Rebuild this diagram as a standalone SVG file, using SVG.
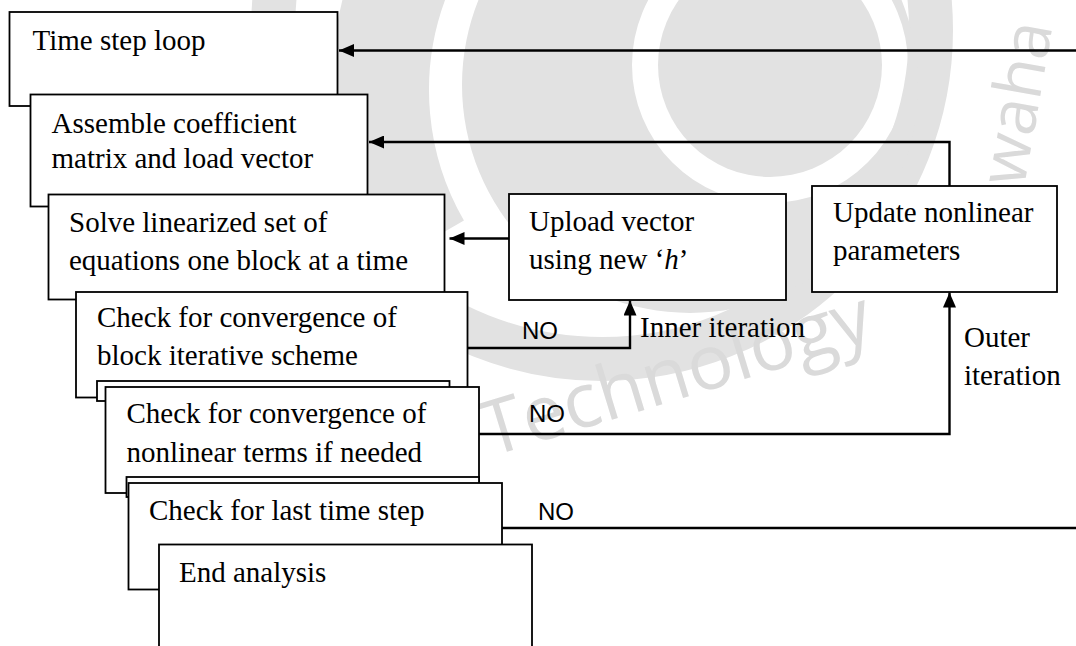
<svg xmlns="http://www.w3.org/2000/svg" width="1076" height="646" viewBox="0 0 1076 646">
  <defs>
    <style>
      .box { fill: #ffffff; stroke: #000000; stroke-width: 1.8; }
      .t { font-family: "Liberation Serif", "Times New Roman", serif; font-size: 29px; fill: #000000; }
      .no { font-family: "Liberation Sans", Arial, sans-serif; font-size: 24px; fill: #000000; }
      .conn { fill: none; stroke: #000000; stroke-width: 2.4; }
      .wm { fill: #e2e2e2; }
      .wmt { font-family: "Open Sans", "Liberation Sans", sans-serif; fill: #dadada; }
    </style>
    <marker id="arrow" markerUnits="userSpaceOnUse" viewBox="0 0 15 13" markerWidth="15" markerHeight="13" refX="15" refY="6.5" orient="auto">
      <path d="M0,0 L15,6.5 L0,13 z" fill="#000000"/>
    </marker>
  </defs>
  <rect x="0" y="0" width="1076" height="646" fill="#ffffff"/>

  <g id="watermark">
    <circle cx="602" cy="30" r="329" fill="none" stroke="#e2e2e2" stroke-width="44"/>
    <path class="wm" fill-rule="evenodd" d="M918,85 A228,228 0 1,1 462,85 A228,228 0 1,1 918,85 Z M908,65 A138,138 0 1,0 632,65 A138,138 0 1,0 908,65 Z"/>
    <path d="M421.5,245 A310,310 0 0,1 610,-209.4" fill="none" stroke="#e2e2e2" stroke-width="98"/>
    <circle class="wm" cx="770" cy="65" r="112"/>
    <text class="wmt" font-size="76" transform="translate(490,457) rotate(-17)">Technology</text>
    <text class="wmt" font-size="66" transform="translate(1024,188) rotate(-80)">waha</text>
  </g>

  <g id="node-time-step-loop">
    <rect class="box" x="9.5" y="12" width="328" height="94"/>
    <text class="t" x="32.5" y="50">Time step loop</text>
  </g>
  <g id="node-assemble">
    <rect class="box" x="30.5" y="94.5" width="337" height="112"/>
    <text class="t" x="51.5" y="133">Assemble coefficient</text>
    <text class="t" x="51.5" y="168">matrix and load vector</text>
  </g>
  <g id="node-solve">
    <rect class="box" x="48.5" y="194.5" width="396" height="105"/>
    <text class="t" x="69" y="232">Solve linearized set of</text>
    <text class="t" x="69" y="270">equations one block at a time</text>
  </g>
  <g id="node-check-block">
    <rect class="box" x="76" y="292" width="391.5" height="105.5"/>
    <text class="t" x="97" y="327">Check for convergence of</text>
    <text class="t" x="97" y="365">block iterative scheme</text>
    <rect class="box" x="97" y="381" width="352.5" height="20"/>
  </g>
  <g id="node-check-nonlinear">
    <rect class="box" x="105.5" y="387" width="373.5" height="106"/>
    <text class="t" x="126.5" y="423">Check for convergence of</text>
    <text class="t" x="126.5" y="462">nonlinear terms if needed</text>
    <rect class="box" x="126.5" y="477" width="352.5" height="20"/>
  </g>
  <g id="node-check-last">
    <rect class="box" x="128.5" y="483" width="373.5" height="106.5"/>
    <text class="t" x="149" y="520">Check for last time step</text>
  </g>
  <g id="node-end">
    <rect class="box" x="159" y="544.5" width="373" height="110"/>
    <text class="t" x="179" y="582">End analysis</text>
  </g>
  <g id="node-upload">
    <rect class="box" x="509" y="194" width="277" height="106"/>
    <text class="t" x="529" y="231">Upload vector</text>
    <text class="t" x="529" y="269">using new ‘<tspan font-style="italic">h</tspan>’</text>
  </g>
  <g id="node-update">
    <rect class="box" x="812" y="186" width="245" height="106"/>
    <text class="t" x="833" y="221.5">Update nonlinear</text>
    <text class="t" x="833" y="259.5">parameters</text>
  </g>

  <g id="connectors">
    <path class="conn" d="M1076,50.5 H339" marker-end="url(#arrow)"/>
    <path class="conn" d="M949.5,186 V142 H369" marker-end="url(#arrow)"/>
    <path class="conn" d="M509,238.5 H449.5" marker-end="url(#arrow)"/>
    <path class="conn" d="M467.5,348 H630 V300.5" marker-end="url(#arrow)"/>
    <path class="conn" d="M479,434 H949.5 V292.5" marker-end="url(#arrow)"/>
    <path class="conn" d="M502,528 H1076"/>
  </g>

  <g id="labels">
    <text class="no" x="522" y="339">NO</text>
    <text class="t" x="640" y="337">Inner iteration</text>
    <text class="no" x="529" y="422">NO</text>
    <text class="t" x="964" y="347">Outer</text>
    <text class="t" x="964" y="385">iteration</text>
    <text class="no" x="538" y="520">NO</text>
  </g>
</svg>
